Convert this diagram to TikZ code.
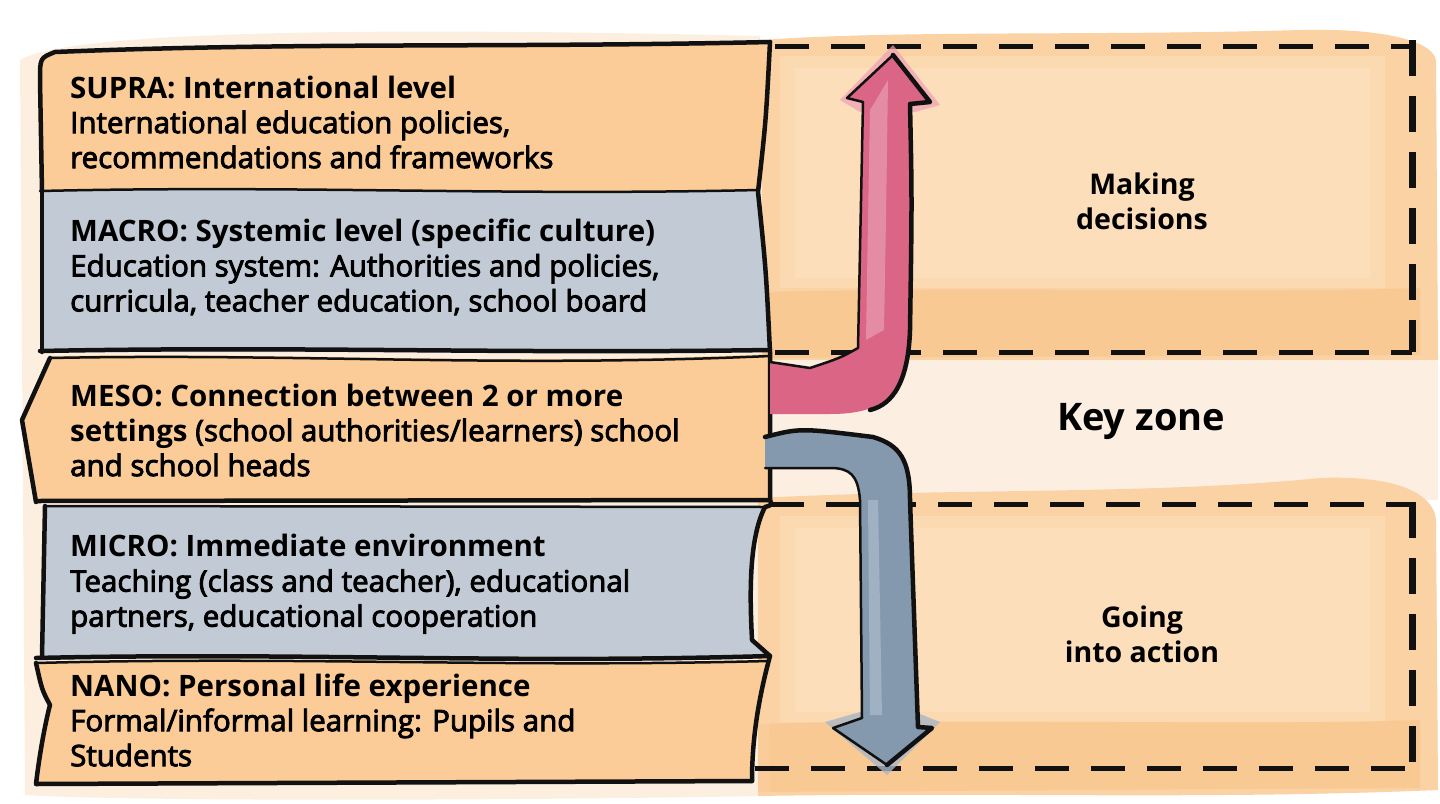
\documentclass[tikz,border=0pt]{standalone}
\usepackage{fontspec}
\setmainfont{Open Sans}
\newfontfamily\medfont[FakeBold=3]{Open Sans}
\usetikzlibrary{calc}
\definecolor{boxorange}{HTML}{FBCB98}
\definecolor{boxblue}{HTML}{C2CBD5}
\definecolor{peachA}{HTML}{FAD2A4}
\definecolor{peachL}{HTML}{FCDEBB}
\definecolor{peachD}{HTML}{F9C994}
\definecolor{keyc}{HTML}{FDEEE2}
\definecolor{redarrow}{HTML}{DA6585}
\definecolor{redlight}{HTML}{E58CA5}
\definecolor{redglow}{HTML}{EE9FB2}
\definecolor{grayarrow}{HTML}{8599AE}
\definecolor{graylight}{HTML}{9FB1C3}
\definecolor{grayglow}{HTML}{A9B7C5}
\definecolor{ink}{HTML}{111111}
\tikzset{
  inkline/.style={draw=ink,line width=4.5pt,line join=round,line cap=round},
  thinink/.style={draw=ink,line width=2.5pt,line join=round,line cap=round},
  dashline/.style={draw=ink,line width=5pt,dash pattern=on 34pt off 22pt},
  dashvert/.style={draw=ink,line width=7pt,dash pattern=on 36pt off 20pt},
  leveltext/.style={anchor=west,align=left,inner sep=0pt,font=\fontsize{29.5}{35}\selectfont},
  zonetext/.style={align=center,inner sep=0pt,font=\fontsize{28.5}{35}\selectfont\bfseries},
}
\begin{document}
\begin{tikzpicture}[x=1pt,y=-1pt]
\useasboundingbox (0,0) rectangle (1440,803);
\fill[white] (0,0) rectangle (1440,803);

% ---------- background washes ----------
% top zone
\fill[peachA] (762,40) .. controls (900,30) and (1100,36) .. (1300,30)
  .. controls (1380,28) and (1432,40) .. (1436,60) -- (1438,360)
  .. controls (1200,368) and (1000,362) .. (762,366) -- cycle;
\fill[peachL,opacity=0.6] (780,56) rectangle (1385,288);
\fill[peachL] (795,68) rectangle (1370,278);
\fill[peachD] (762,292) .. controls (1000,286) and (1250,294) .. (1420,288)
  -- (1420,355) -- (762,358) -- cycle;
% key zone
\fill[keyc] (770,360) rectangle (1438,500);
% bottom zone
\fill[peachA] (758,498) .. controls (950,488) and (1150,495) .. (1320,478)
  .. controls (1400,475) and (1434,495) .. (1436,520) -- (1438,790)
  .. controls (1200,800) and (1000,792) .. (758,796) -- cycle;
\fill[peachL,opacity=0.6] (780,516) rectangle (1385,722);
\fill[peachL] (795,528) rectangle (1370,712);
\fill[peachD] (758,724) .. controls (1000,718) and (1250,726) .. (1420,720)
  -- (1420,788) -- (758,792) -- cycle;
% wash around left boxes
\fill[peachA,opacity=0.35] (20,60) .. controls (60,35) and (300,25) .. (760,36) -- (770,796)
  .. controls (400,802) and (100,800) .. (25,795) -- cycle;

% ---------- left level boxes ----------
% SUPRA
\fill[boxorange] (55,52) .. controls (300,42) and (500,48) .. (770,42)
  .. controls (766,120) .. (758,192) -- (42,192) -- (40,80) .. controls (40,58) .. (55,52) -- cycle;
% MACRO
\fill[boxblue] (42,190) .. controls (300,185) and (500,196) .. (758,190)
  .. controls (766,270) .. (770,352) -- (42,352) -- cycle;
% MESO
\fill[boxorange] (50,356) .. controls (300,352) and (500,366) .. (770,354)
  -- (770,500) -- (36,502) -- (22,420) -- cycle;
% MICRO
\fill[boxblue] (45,505) -- (765,506) .. controls (748,540) and (750,600) .. (752,640)
  -- (770,656) -- (42,658) -- cycle;
% NANO
\fill[boxorange] (35,662) .. controls (300,655) and (500,668) .. (768,660)
  .. controls (755,700) and (752,740) .. (752,780) -- (36,784)
  .. controls (40,740) and (48,710) .. (50,705) .. controls (42,690) .. (35,662) -- cycle;

% box outlines
\draw[inkline] (42,192) -- (40,80) .. controls (40,58) .. (55,52)
  .. controls (300,42) and (500,48) .. (770,42);
\draw[thinink] (40,191) .. controls (300,185) and (500,196) .. (758,190);
\draw[inkline] (42,192) -- (42,352);
\draw[inkline] (40,351) .. controls (300,346) and (500,354) .. (770,350);
\draw[thinink] (50,358) .. controls (300,353) and (500,368) .. (770,356);
\draw[inkline] (50,358) -- (22,420) -- (36,502);
\draw[inkline] (36,501) -- (770,500);
\draw[thinink] (45,506) -- (765,507);
\draw[inkline] (45,506) -- (42,657);
\draw[inkline] (36,658) .. controls (300,652) and (500,664) .. (770,656);
\draw[thinink] (36,663) .. controls (300,656) and (500,668) .. (768,661);
\draw[inkline] (36,663) .. controls (42,690) .. (50,705) .. controls (46,720) and (40,750) .. (36,784)
  -- (752,781);
% right edge of the boxes
\draw[inkline] (770,42) .. controls (766,120) .. (758,192) .. controls (766,270) .. (770,352)
  -- (770,500) .. controls (772,505) .. (765,507)
  .. controls (748,540) and (750,600) .. (752,640) -- (770,656)
  .. controls (758,700) and (752,740) .. (752,781);

% ---------- dashed zone frames ----------
\draw[dashline] (775,46) -- (1410,46);
\draw[dashvert] (1412,40) -- (1412,352);
\draw[dashline] (775,352) -- (1412,352);
\draw[dashline] (770,504) -- (1410,504);
\draw[dashvert] (1412,502) -- (1412,770);
\draw[dashline] (755,768) -- (1412,768);

% ---------- red arrow (up) ----------
\fill[redglow,opacity=0.7] (840,100) -- (893,45) -- (940,105) -- (915,112) -- (860,112) -- cycle;
\fill[redarrow] (770,362) -- (810,368) .. controls (840,358) .. (858,348)
  .. controls (860,250) .. (863,102) -- (847,98) -- (893,55) -- (930,102) -- (910,104)
  .. controls (912,200) .. (910,330) .. controls (908,398) and (880,414) .. (830,414)
  -- (770,414) -- cycle;
\fill[redlight] (870,110) .. controls (868,220) .. (866,340) -- (884,330)
  .. controls (886,220) .. (888,80) -- cycle;
\draw[thinink] (770,362) -- (810,368) .. controls (840,358) .. (858,348)
  .. controls (860,250) .. (863,102) -- (847,98) -- (893,55) -- (930,102) -- (910,104);
\draw[inkline] (893,55) -- (930,102) -- (910,104)
  .. controls (912,200) .. (910,330) .. controls (908,392) and (886,406) .. (870,410);

% ---------- gray arrow (down) ----------
\fill[grayglow,opacity=0.8] (825,722) -- (887,775) -- (940,722) -- (915,712) -- (860,712) -- cycle;
\fill[grayarrow] (765,437) .. controls (800,428) .. (873,437)
  .. controls (900,445) and (910,460) .. (910,500) -- (918,727) -- (932,728)
  -- (887,765) -- (833,728) -- (862,718) -- (860,500)
  .. controls (858,475) and (850,468) .. (830,468) -- (765,468) -- cycle;
\fill[graylight] (868,500) -- (878,500) -- (882,715) -- (870,715) -- cycle;
\draw[inkline] (765,437) .. controls (800,428) .. (873,437)
  .. controls (900,445) and (910,460) .. (910,500) -- (918,727) -- (932,728) -- (887,765);
\draw[thinink] (887,765) -- (833,728) -- (862,718) -- (860,500)
  .. controls (858,475) and (850,468) .. (830,468) -- (765,468);

% ---------- texts ----------
\node[leveltext] (supra) at (70,122) {\bfseries SUPRA: International level\\
  \medfont International education policies,\\
  \medfont recommendations and frameworks};
\node[leveltext] (macro) at (70,267) {\bfseries MACRO: Systemic level (specific culture)\\
  \medfont Education system: Authorities and policies,\\
  \medfont curricula, teacher education, school board};
\node[leveltext] (meso) at (70,430) {\bfseries MESO: Connection between 2 or more\\
  {\bfseries settings} \medfont(school authorities/learners) school\\
  \medfont and school heads};
\node[leveltext] (micro) at (70,584) {\bfseries MICRO: Immediate environment\\
  \medfont Teaching (class and teacher), educational\\
  \medfont partners, educational cooperation};
\node[leveltext] (nano) at (70,720) {\bfseries NANO: Personal life experience\\
  \medfont Formal/informal learning: Pupils and\\
  \medfont Students};

\node[zonetext] (decide) at (1142,201) {Making\\decisions};
\node[zonetext,font=\fontsize{38}{44}\selectfont\bfseries] (key) at (1141,421) {Key zone};
\node[zonetext] (action) at (1142,634) {Going\\into action};
\end{tikzpicture}
\end{document}
